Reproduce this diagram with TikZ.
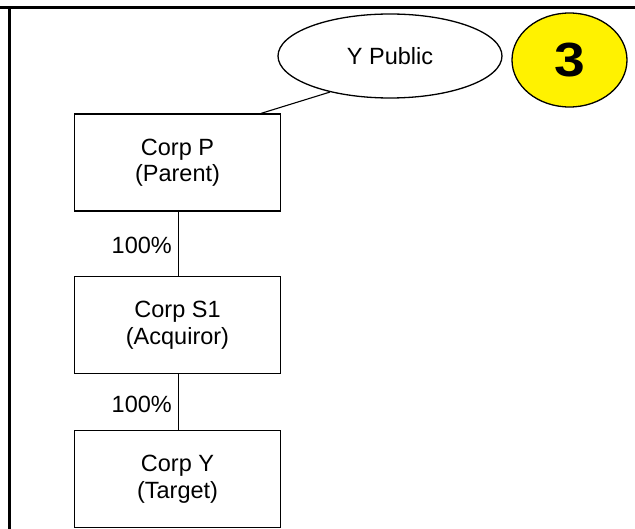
\documentclass[tikz,border=0pt]{standalone}
\usepackage{fontspec}
\setmainfont{Liberation Sans}
\usetikzlibrary{shapes.geometric}
\begin{document}
\begin{tikzpicture}[x=1pt,y=-1pt,
  corp/.style={draw,line width=1.3pt,minimum width=206pt,minimum height=97pt,align=center,font=\fontsize{23.5}{26.5}\selectfont,inner sep=0pt},
  pct/.style={anchor=east,font=\fontsize{23.5}{26}\selectfont,inner sep=0pt},
  link/.style={line width=1.1pt}]
\useasboundingbox (0,0) rectangle (635,529);
\draw[line width=3pt] (0,8) -- (635,8);
\draw[line width=3pt] (9.5,8) -- (9.5,529);
\node[corp] (P) at (177.5,162.5) {Corp P\\(Parent)};
\node[corp] (S) at (177.5,325) {Corp S1\\(Acquiror)};
\node[corp] (Y) at (177.5,479) {Corp Y\\(Target)};
\node[draw,ellipse,line width=1.3pt,minimum width=224pt,minimum height=84pt,inner sep=0pt,font=\fontsize{23.5}{26}\selectfont] (pub) at (390,56) {Y Public};
\node[draw,ellipse,line width=1.3pt,fill=yellow,minimum width=115pt,minimum height=94pt,inner sep=0pt,font=\fontsize{48}{52}\selectfont\bfseries] (num) at (569.5,60) {\scalebox{1.15}[1]{3}};
\draw[link] (P.north east) ++(-20,0) coordinate (pc) -- (pub.211);
\draw[link] (P.south -| 178.5,0) -- (S.north -| 178.5,0);
\draw[link] (S.south -| 178.5,0) -- (Y.north -| 178.5,0);
\node[pct] (l1) at (172,245) {100\%};
\node[pct] (l2) at (172,404) {100\%};
\end{tikzpicture}
\end{document}
